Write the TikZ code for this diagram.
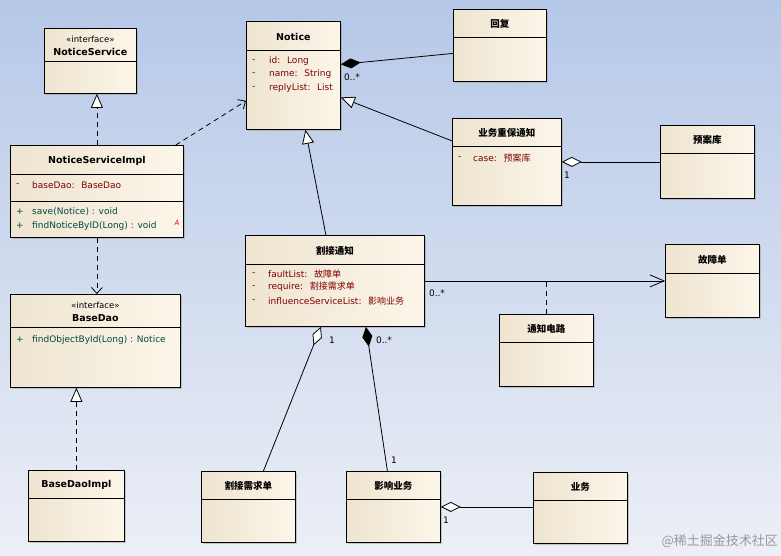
\documentclass[tikz,border=0pt]{standalone}
\usepackage{fontspec}
\setmainfont{DejaVu Sans}
\newfontfamily\cjk{Noto Sans CJK SC}
\usetikzlibrary{arrows.meta, calc, shadows}
\definecolor{bgtop}{RGB}{182,200,232}
\definecolor{bgbot}{RGB}{236,239,246}
\definecolor{boxleft}{RGB}{238,228,208}
\definecolor{boxright}{RGB}{252,246,234}
\definecolor{attrred}{RGB}{128,0,0}
\definecolor{opgreen}{RGB}{0,72,64}

% name, left, top, width, height, header height, title
\newcommand{\umlclass}[7]{%
  \node[classbox, minimum width=#4pt, minimum height=#5pt, anchor=north west] (#1) at (#2,#3) {};
  \draw[line width=0.8pt] ($(#1.north west)+(0,#6)$) -- ++(#4,0);
  \node[classtitle] (#1-title) at ($(#1.north)+(0,#6/2+1)$) {#7};
}

\begin{document}
\begin{tikzpicture}[x=1pt, y=-1pt,
  classbox/.style={draw, line width=0.8pt, left color=boxleft, right color=boxright,
    drop shadow={shadow xshift=2pt, shadow yshift=-2pt, fill=black!40, opacity=0.5}},
  classtitle/.style={align=center, inner sep=0pt, font=\bfseries\fontsize{9.5}{13}\selectfont},
  attr/.style={anchor=west, inner sep=0pt, text=attrred, font=\fontsize{9}{11}\selectfont},
  op/.style={attr, text=opgreen},
  mult/.style={inner sep=0pt, font=\fontsize{9}{11}\selectfont},
  dep/.style={line width=0.8pt, dash pattern=on 5pt off 4pt},
  link/.style={line width=0.8pt},
  real/.style={dep, -{Triangle[fill=white, length=14pt, width=12pt]}},
  gen/.style={link, -{Triangle[fill=white, length=14pt, width=12pt]}},
  use/.style={dep, -{Straight Barb[length=6pt, width=11pt]}},
  nav/.style={link, -{Straight Barb[length=14pt, width=12pt]}},
  comp/.style={link, {Diamond[length=20pt, width=10pt]}-},
  aggr/.style={link, {Diamond[fill=white, length=20pt, width=10pt]}-}]

\shade[top color=bgtop, bottom color=bgbot] (0,0) rectangle (781,555);
\useasboundingbox (0,0) rectangle (781,555);

\umlclass{svc}{44}{28}{92}{65}{33}{{\mdseries\fontsize{8.5}{10}\selectfont «interface»}\\NoticeService}
\umlclass{impl}{10}{145}{173}{92}{29}{NoticeServiceImpl}
\draw[line width=0.8pt] ($(impl.north west)+(0,56)$) -- ++(173,0);
\umlclass{notice}{246}{21}{94}{108}{29}{Notice}
\umlclass{reply}{453}{9}{93}{72}{28}{\cjk 回复}
\umlclass{zb}{452}{118}{109}{87}{28}{\cjk 业务重保通知}
\umlclass{yak}{660}{125}{94}{73}{28}{\cjk 预案库}
\umlclass{gj}{245}{235}{179}{91}{29}{\cjk 割接通知}
\umlclass{gzd}{665}{244}{94}{73}{29}{\cjk 故障单}
\umlclass{tzdl}{499}{314}{94}{72}{28}{\cjk 通知电路}
\umlclass{dao}{10}{294}{170}{93}{33}{{\mdseries\fontsize{8.5}{10}\selectfont «interface»}\\BaseDao}
\umlclass{daoimpl}{28}{470}{96}{71}{28}{BaseDaoImpl}
\umlclass{xqd}{201}{471}{94}{71}{28}{\cjk 割接需求单}
\umlclass{yxyw}{346}{471}{94}{71}{28}{\cjk 影响业务}
\umlclass{yw}{533}{472}{94}{71}{28}{\cjk 业务}

% members
\foreach \y/\t in {61/id:~ Long, 74/name:~ String, 88/replyList:~ List} {
  \node[attr] (nm\y) at (252,\y) {-};
  \node[attr] (na\y) at (269,\y) {\t};
}
\node[attr] (im) at (16,185) {-};
\node[attr] (ia) at (32,185) {baseDao:~ BaseDao};
\node[op] (io1) at (16,212) {+};
\node[op] (iop1) at (32,212) {save(Notice) : void};
\node[op] (io2) at (16,226) {+};
\node[op] (iop2) at (32,226) {findNoticeByID(Long) : void};
\node[inner sep=0pt, text=red, font=\itshape\fontsize{7}{8}\selectfont] (abs) at (177,223) {A};
\node[op] (do1) at (16,340) {+};
\node[op] (dop1) at (32,340) {findObjectById(Long) : Notice};
\node[attr] (zm) at (458,158) {-};
\node[attr] (za) at (473,158) {case:~ {\cjk 预案库}};
\foreach \y/\t in {274/faultList:~ {\cjk 故障单}, 287/require:~ {\cjk 割接需求单}, 301/influenceServiceList:~ {\cjk 影响业务}} {
  \node[attr] (gm\y) at (252,\y) {-};
  \node[attr] (ga\y) at (268,\y) {\t};
}

% relations
\draw[real] (impl.north) -- (impl.north |- svc.south);
\draw[use] ($(impl.north east)+(-8,0)$) -- ($(notice.south west)+(0,-29)$);
\draw[use] (impl.south) -- (impl.south |- dao.north);
\draw[real] (daoimpl.north) -- (daoimpl.north |- dao.south);
\draw[comp] ($(notice.east)+(0,-11)$) -- ($(reply.west)+(0,8)$);
\node[mult, anchor=north west] (m1) at ($(notice.east)+(3,-2)$) {0..*};
\draw[gen] ($(zb.west)+(0,-21)$) -- ($(notice.east)+(0,22)$);
\draw[gen] ($(gj.north)+(-9,0)$) -- ($(notice.south)+(12,0)$);
\draw[aggr] (zb.east) -- (zb.east -| yak.west);
\node[mult] (m2) at (567,175) {1};
\draw[nav] (gj.east) -- (gj.east -| gzd.west);
\node[mult] (m3) at (437,293) {0..*};
\draw[dep] (tzdl.north) -- (tzdl.north |- gj.east);
\draw[aggr] ($(gj.south)+(-14,0)$) -- ($(xqd.north)+(15,0)$);
\node[mult] (m4) at (332,340) {1};
\draw[comp] ($(gj.south)+(31,0)$) -- ($(yxyw.north)+(-6,0)$);
\node[mult] (m5) at (384,340) {0..*};
\node[mult] (m6) at (394,460) {1};
\draw[aggr] (yxyw.east) -- (yxyw.east -| yw.west);
\node[mult] (m7) at (446,520) {1};

\node[anchor=east, inner sep=0pt, text=black!40, font=\cjk\fontsize{13}{15}\selectfont] (mark) at (778,541) {@稀土掘金技术社区};
\end{tikzpicture}
\end{document}
